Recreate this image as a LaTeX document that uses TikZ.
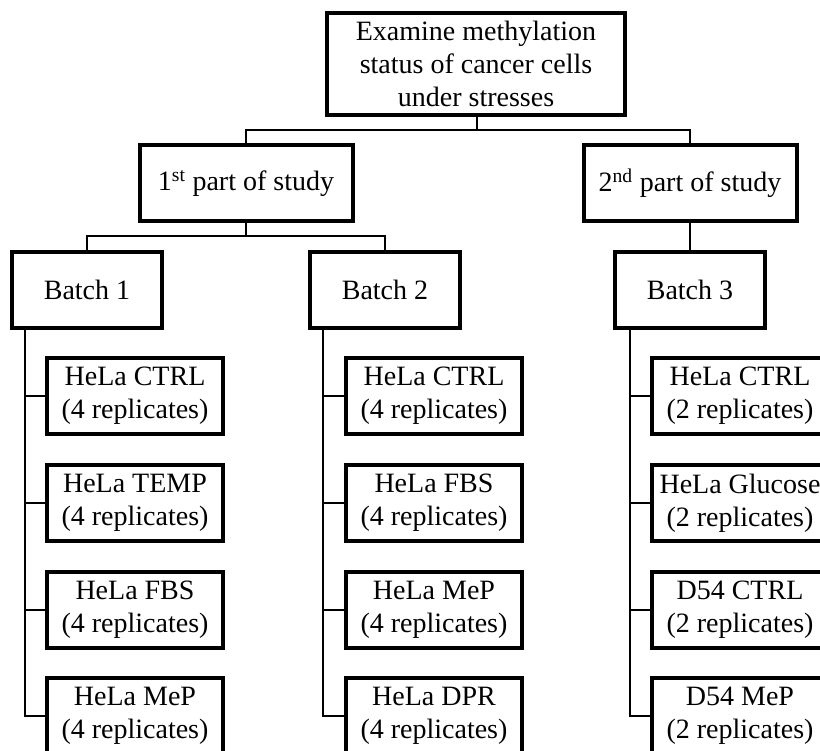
\documentclass[tikz,border=0pt]{standalone}
\usepackage{fontspec}
\setmainfont{Liberation Serif}
\begin{document}
\begin{tikzpicture}[x=1pt,y=-1pt,
  box/.style={draw=black,line width=4pt,rectangle,inner sep=0pt,align=center,
    font=\fontsize{28}{33}\selectfont},
  topbox/.style={box,minimum width=298pt,minimum height=102pt},
  partbox/.style={box,minimum width=213pt,minimum height=76pt},
  batchbox/.style={box,minimum width=150pt,minimum height=76pt},
  leafbox/.style={box,minimum width=176pt,minimum height=76pt},
  conn/.style={draw=black,line width=2.6pt}]
\useasboundingbox (0,0) rectangle (820,751);
\clip (0,0) rectangle (820,751);

\node[topbox] (top) at (476,64) {Examine methylation\\status of cancer cells\\under stresses};
\node[partbox] (p1) at (246,183.5) {1\textsuperscript{st} part of study};
\node[partbox] (p2) at (690,183.5) {2\textsuperscript{nd} part of study};

\node[batchbox] (b1) at (87,290) {Batch 1};
\node[batchbox] (b2) at (385,290) {Batch 2};
\node[batchbox] (b3) at (690,290) {Batch 3};

\node[leafbox] (l11) at (135,396) {HeLa CTRL\\(4 replicates)};
\node[leafbox] (l12) at (135,503) {HeLa TEMP\\(4 replicates)};
\node[leafbox] (l13) at (135,610) {HeLa FBS\\(4 replicates)};
\node[leafbox] (l14) at (135,716) {HeLa MeP\\(4 replicates)};

\node[leafbox] (l21) at (434,396) {HeLa CTRL\\(4 replicates)};
\node[leafbox] (l22) at (434,503) {HeLa FBS\\(4 replicates)};
\node[leafbox] (l23) at (434,610) {HeLa MeP\\(4 replicates)};
\node[leafbox] (l24) at (434,716) {HeLa DPR\\(4 replicates)};

\node[leafbox] (l31) at (740,396) {HeLa CTRL\\(2 replicates)};
\node[leafbox] (l32) at (740,503) {HeLa Glucose\\(2 replicates)};
\node[leafbox] (l33) at (740,610) {D54 CTRL\\(2 replicates)};
\node[leafbox] (l34) at (740,716) {D54 MeP\\(2 replicates)};

% top level connectors
\coordinate (h1) at (0,130);
\coordinate (h2) at (0,236);
\draw[conn] ([xshift=1pt]top.south) -- ([xshift=1pt]top.south |- h1);
\draw[conn] (p1.north) |- (p2.north |- h1) -- (p2.north);
\draw[conn] (p1.south) -- (p1.south |- h2);
\draw[conn] (b1.north) |- (b2.north |- h2) -- (b2.north);
\draw[conn] (p2.south) -- (b3.north);

% batch 1 branches
\coordinate (v1) at ([xshift=15pt]b1.south west);
\draw[conn] (v1) |- (l14.west);
\foreach \n in {l11,l12,l13} \draw[conn] (\n.west) -- (\n.west -| v1);

% batch 2 branches
\coordinate (v2) at ([xshift=15pt]b2.south west);
\draw[conn] (v2) |- (l24.west);
\foreach \n in {l21,l22,l23} \draw[conn] (\n.west) -- (\n.west -| v2);

% batch 3 branches
\coordinate (v3) at ([xshift=17pt]b3.south west);
\draw[conn] (v3) |- (l34.west);
\foreach \n in {l31,l32,l33} \draw[conn] (\n.west) -- (\n.west -| v3);
\end{tikzpicture}
\end{document}
